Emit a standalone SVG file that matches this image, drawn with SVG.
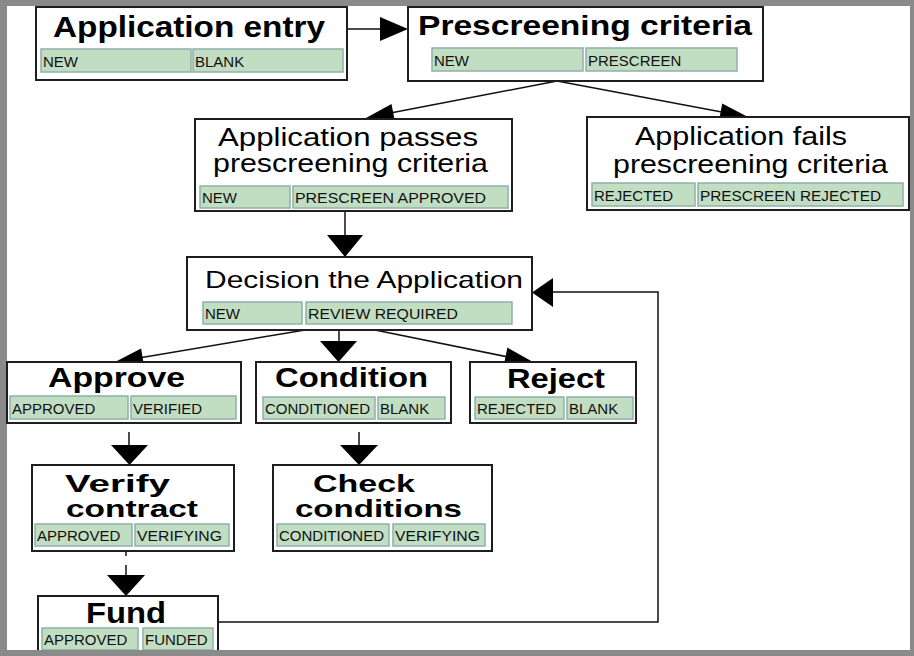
<svg xmlns="http://www.w3.org/2000/svg" width="914" height="656" viewBox="0 0 914 656">
<style>
.box{fill:#fff;stroke:#1e1e1e;stroke-width:2}
.chip{fill:#c1ddc2;stroke:#8fb0aa;stroke-width:1.5}
.ct{font-family:"Liberation Sans",Arial,sans-serif;font-size:15px;fill:#111}
.tb{font-family:"Liberation Sans",Arial,sans-serif;font-weight:bold;fill:#000}
.tn{font-family:"Liberation Sans",Arial,sans-serif;fill:#000}
.ln{stroke:#111;stroke-width:1.5;fill:none}
.ah{fill:#000;stroke:none}
</style>
<rect x="0" y="0" width="914" height="656" fill="#8a8a8a"/>
<rect x="7" y="6" width="903" height="644" fill="#fff"/>

<g id="connectors">
  <line class="ln" x1="347" y1="29" x2="382" y2="29"/>
  <polygon class="ah" points="380,17 408,29 380,41"/>
  <line class="ln" x1="557" y1="81" x2="380" y2="115"/>
  <polygon class="ah" points="366,118 394.9,121.5 391.5,104.0"/>
  <line class="ln" x1="557" y1="81" x2="735" y2="114.5"/>
  <polygon class="ah" points="748,117 722.2,103.6 718.9,121.2"/>
  <line class="ln" x1="345" y1="211" x2="345" y2="236"/>
  <polygon class="ah" points="327,235 363,235 345,257"/>
  <line class="ln" x1="305" y1="330" x2="130" y2="359.5"/>
  <polygon class="ah" points="115,362 144.1,366.3 141.1,348.5"/>
  <line class="ln" x1="339" y1="330" x2="339" y2="342"/>
  <polygon class="ah" points="320,341 357,341 338.5,362"/>
  <line class="ln" x1="375" y1="330" x2="520" y2="359.4"/>
  <polygon class="ah" points="533,362 507.4,347.6 503.8,365.2"/>
  <line class="ln" x1="129" y1="432" x2="129" y2="446"/>
  <polygon class="ah" points="111,445 148,445 129.5,465"/>
  <line class="ln" x1="359" y1="432" x2="359" y2="446"/>
  <polygon class="ah" points="340,445 378,445 359,465"/>
  <line class="ln" x1="126" y1="551" x2="126" y2="556"/>
  <line class="ln" x1="126" y1="565" x2="126" y2="576"/>
  <polygon class="ah" points="107,575 145,575 126,596"/>
  <polyline class="ln" points="218,622 658,622 658,292 552,292"/>
  <polygon class="ah" points="553,278 553,307 532,292.5"/>
</g>

<g id="application-entry">
  <rect class="box" x="36" y="7" width="311" height="73"/>
  <text class="tb" x="53" y="37" font-size="30" textLength="272" lengthAdjust="spacingAndGlyphs">Application entry</text>
  <rect class="chip" x="41" y="49" width="150" height="23"/>
  <text class="ct" x="43" y="67">NEW</text>
  <rect class="chip" x="193" y="49" width="150" height="23"/>
  <text class="ct" x="195" y="67">BLANK</text>
</g>

<g id="prescreening-criteria">
  <rect class="box" x="408" y="7" width="355" height="74"/>
  <text class="tb" x="418" y="35" font-size="28" textLength="334" lengthAdjust="spacingAndGlyphs">Prescreening criteria</text>
  <rect class="chip" x="432" y="48" width="151" height="23"/>
  <text class="ct" x="434" y="66">NEW</text>
  <rect class="chip" x="586" y="48" width="151" height="23"/>
  <text class="ct" x="588" y="66">PRESCREEN</text>
</g>

<g id="passes">
  <rect class="box" x="195" y="119" width="317" height="92"/>
  <text class="tn" x="218" y="146" font-size="25" textLength="260" lengthAdjust="spacingAndGlyphs">Application passes</text>
  <text class="tn" x="213" y="172" font-size="25" textLength="275" lengthAdjust="spacingAndGlyphs">prescreening criteria</text>
  <rect class="chip" x="200" y="186" width="90" height="22"/>
  <text class="ct" x="202" y="203">NEW</text>
  <rect class="chip" x="293" y="186" width="215" height="22"/>
  <text class="ct" x="295" y="203" textLength="191" lengthAdjust="spacingAndGlyphs">PRESCREEN APPROVED</text>
</g>

<g id="fails">
  <rect class="box" x="587" y="117" width="322" height="93"/>
  <text class="tn" x="635" y="145" font-size="25" textLength="212" lengthAdjust="spacingAndGlyphs">Application fails</text>
  <text class="tn" x="613" y="173" font-size="25" textLength="275" lengthAdjust="spacingAndGlyphs">prescreening criteria</text>
  <rect class="chip" x="592" y="183" width="103" height="23"/>
  <text class="ct" x="594" y="201">REJECTED</text>
  <rect class="chip" x="698" y="183" width="205" height="23"/>
  <text class="ct" x="700" y="201" textLength="181" lengthAdjust="spacingAndGlyphs">PRESCREEN REJECTED</text>
</g>

<g id="decision">
  <rect class="box" x="187" y="257" width="345" height="73"/>
  <text class="tn" x="205" y="288" font-size="24" textLength="318" lengthAdjust="spacingAndGlyphs">Decision the Application</text>
  <rect class="chip" x="203" y="302" width="99" height="22"/>
  <text class="ct" x="205" y="319">NEW</text>
  <rect class="chip" x="306" y="302" width="206" height="22"/>
  <text class="ct" x="308" y="319" textLength="150" lengthAdjust="spacingAndGlyphs">REVIEW REQUIRED</text>
</g>

<g id="approve">
  <rect class="box" x="7" y="362" width="234" height="61"/>
  <text class="tb" x="48" y="387" font-size="28" textLength="137" lengthAdjust="spacingAndGlyphs">Approve</text>
  <rect class="chip" x="10" y="396" width="118" height="23"/>
  <text class="ct" x="12" y="414">APPROVED</text>
  <rect class="chip" x="131" y="396" width="105" height="23"/>
  <text class="ct" x="133" y="414">VERIFIED</text>
</g>

<g id="condition">
  <rect class="box" x="256" y="362" width="195" height="61"/>
  <text class="tb" x="275" y="387" font-size="28" textLength="153" lengthAdjust="spacingAndGlyphs">Condition</text>
  <rect class="chip" x="263" y="397" width="112" height="22"/>
  <text class="ct" x="265" y="414">CONDITIONED</text>
  <rect class="chip" x="378" y="397" width="67" height="22"/>
  <text class="ct" x="380" y="414">BLANK</text>
</g>

<g id="reject">
  <rect class="box" x="470" y="362" width="166" height="61"/>
  <text class="tb" x="507" y="388" font-size="28" textLength="98" lengthAdjust="spacingAndGlyphs">Reject</text>
  <rect class="chip" x="475" y="397" width="89" height="22"/>
  <text class="ct" x="477" y="414">REJECTED</text>
  <rect class="chip" x="567" y="397" width="66" height="22"/>
  <text class="ct" x="569" y="414">BLANK</text>
</g>

<g id="verify-contract">
  <rect class="box" x="32" y="465" width="202" height="86"/>
  <text class="tb" x="65" y="492" font-size="24" textLength="105" lengthAdjust="spacingAndGlyphs">Verify</text>
  <text class="tb" x="66" y="517" font-size="24" textLength="132" lengthAdjust="spacingAndGlyphs">contract</text>
  <rect class="chip" x="35" y="524" width="97" height="22"/>
  <text class="ct" x="37" y="541">APPROVED</text>
  <rect class="chip" x="135" y="524" width="94" height="22"/>
  <text class="ct" x="137" y="541" textLength="85" lengthAdjust="spacingAndGlyphs">VERIFYING</text>
</g>

<g id="check-conditions">
  <rect class="box" x="273" y="465" width="219" height="86"/>
  <text class="tb" x="313" y="492" font-size="24" textLength="102" lengthAdjust="spacingAndGlyphs">Check</text>
  <text class="tb" x="295" y="517" font-size="24" textLength="167" lengthAdjust="spacingAndGlyphs">conditions</text>
  <rect class="chip" x="277" y="524" width="112" height="22"/>
  <text class="ct" x="279" y="541">CONDITIONED</text>
  <rect class="chip" x="393" y="524" width="92" height="22"/>
  <text class="ct" x="395" y="541" textLength="85" lengthAdjust="spacingAndGlyphs">VERIFYING</text>
</g>

<g id="fund">
  <rect class="box" x="38" y="596" width="180" height="60"/>
  <text class="tb" x="86" y="623" font-size="29" textLength="80" lengthAdjust="spacingAndGlyphs">Fund</text>
  <rect class="chip" x="42" y="628" width="96" height="22"/>
  <text class="ct" x="44" y="645">APPROVED</text>
  <rect class="chip" x="143" y="628" width="70" height="22"/>
  <text class="ct" x="145" y="645">FUNDED</text>
</g>

<rect x="0" y="650" width="914" height="6" fill="#8a8a8a"/>
</svg>
